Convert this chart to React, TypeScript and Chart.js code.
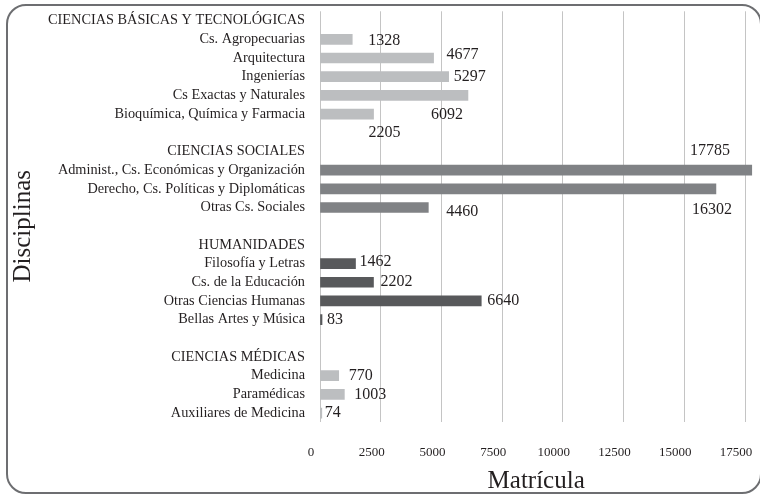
import React, { useEffect, useRef } from "react";
import { Chart, registerables } from "chart.js";

Chart.register(...registerables);

const categories = [
  "CIENCIAS BÁSICAS Y TECNOLÓGICAS",
  "Cs. Agropecuarias",
  "Arquitectura",
  "Ingenierías",
  "Cs Exactas y Naturales",
  "Bioquímica, Química y Farmacia",
  "",
  "CIENCIAS SOCIALES",
  "Administ., Cs. Económicas y Organización",
  "Derecho, Cs. Políticas y Diplomáticas",
  "Otras Cs. Sociales",
  "",
  "HUMANIDADES",
  "Filosofía y Letras",
  "Cs. de la Educación",
  "Otras Ciencias Humanas",
  "Bellas Artes y Música",
  "",
  "CIENCIAS MÉDICAS",
  "Medicina",
  "Paramédicas",
  "Auxiliares de Medicina",
];

const matricula: (number | null)[] = [
  null, 1328, 4677, 5297, 6092, 2205,
  null,
  null, 17785, 16302, 4460,
  null,
  null, 1462, 2202, 6640, 83,
  null,
  null, 770, 1003, 74,
];

// group index of each row (-1 = spacer)
const groupOf = [0, 0, 0, 0, 0, 0, -1, 1, 1, 1, 1, -1, 2, 2, 2, 2, 2, -1, 3, 3, 3, 3];

const xTicks = [0, 2500, 5000, 7500, 10000, 12500, 15000, 17500];

// styling
const groupColors = ["#bcbec0", "#808285", "#58595b", "#bcbec0"];
// label offsets (px) relative to the bar end, as placed in the original
const labelShift: [number, number][] = [
  [0, 0], [16, 1], [13, -3], [5, 0], [-37, 19], [-5, 19],
  [0, 0],
  [0, 0], [-62, -19], [-24, 21], [18, 4],
  [0, 0],
  [0, 0], [4, -2], [7, 0], [6, 0], [5, 0],
  [0, 0],
  [0, 0], [10, 0], [10, 0], [3, 0],
];

const SERIF = "'Liberation Serif', 'Times New Roman', serif";
const TEXT = "#231f20";

const valueLabels = {
  id: "valueLabels",
  afterDatasetsDraw(chart: any) {
    const ctx = chart.ctx;
    const meta = chart.getDatasetMeta(0);
    ctx.save();
    ctx.font = `16px ${SERIF}`;
    ctx.fillStyle = TEXT;
    ctx.textAlign = "left";
    ctx.textBaseline = "middle";
    matricula.forEach((v, i) => {
      if (v === null) return;
      const el = meta.data[i];
      const [dx, dy] = labelShift[i];
      ctx.fillText(String(v), el.x + dx, el.y + dy);
    });
    ctx.restore();
  },
};

export default function App() {
  const ref = useRef<HTMLCanvasElement>(null);
  useEffect(() => {
    if (!ref.current) return;
    const chart = new Chart(ref.current, {
      type: "bar",
      data: {
        labels: categories,
        datasets: [
          {
            data: matricula as any,
            backgroundColor: groupOf.map((g) => (g >= 0 ? groupColors[g] : "transparent")),
            barThickness: 10,
            borderWidth: 0,
          },
        ],
      },
      options: {
        indexAxis: "y",
        responsive: false,
        animation: false,
        layout: { padding: { left: 8, right: 7.7, top: 11.3, bottom: 0 } },
        plugins: { legend: { display: false }, tooltip: { enabled: false } },
        scales: {
          x: {
            min: 0,
            max: 17800,
            afterBuildTicks: (scale: any) => {
              scale.ticks = xTicks.map((v) => ({ value: v }));
            },
            afterFit: (scale: any) => {
              scale.height = 72.6;
              scale.paddingLeft = 0;
              scale.paddingRight = 0;
            },
            grid: { color: "#c4c4c4", lineWidth: 1, drawTicks: false },
            border: { display: false },
            ticks: {
              font: { family: SERIF, size: 13 },
              color: TEXT,
              padding: 22,
              labelOffset: -9,
              maxRotation: 0,
              autoSkip: false,
              callback: (v: any) => String(v),
            },
            title: {
              display: true,
              text: "Matrícula",
              color: TEXT,
              font: { family: SERIF, size: 25, lineHeight: 1 },
              padding: { top: 0, bottom: 1.5 },
            },
          },
          y: {
            afterFit: (scale: any) => {
              scale.width = 312;
              scale.paddingTop = 0;
              scale.paddingBottom = 0;
            },
            grid: { display: false, drawTicks: false },
            border: { display: false },
            ticks: {
              font: { family: SERIF, size: 14.3 },
              color: TEXT,
              padding: 15,
              autoSkip: false,
            },
            title: {
              display: true,
              text: "Disciplinas   ",
              color: TEXT,
              font: { family: SERIF, size: 25, lineHeight: 1 },
              padding: { top: 2.5, bottom: 0 },
            },
          },
        },
      },
      plugins: [valueLabels],
    });
    return () => chart.destroy();
  }, []);

  return (
    <div
      style={{
        position: "fixed",
        left: 0,
        top: 0,
        width: 760,
        height: 495,
        overflow: "hidden",
        background: "#ffffff",
      }}
    >
      <canvas ref={ref} width={760} height={495} style={{ position: "absolute", left: 0, top: 0 }} />
      <div
        style={{
          position: "absolute",
          left: 6,
          top: 4,
          width: 756,
          height: 490,
          boxSizing: "border-box",
          border: "2px solid #6d6e71",
          borderRadius: 20,
          pointerEvents: "none",
        }}
      />
    </div>
  );
}
